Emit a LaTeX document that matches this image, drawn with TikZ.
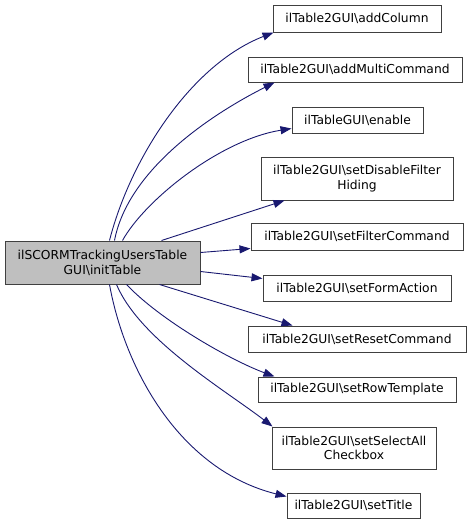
\documentclass[tikz,border=0pt]{standalone}
\usepackage{fontspec}
\setmainfont{DejaVu Sans}
\usetikzlibrary{arrows.meta,calc}
\definecolor{edgecol}{HTML}{191970}
\definecolor{mainfill}{HTML}{BFBFBF}
\begin{document}
\begin{tikzpicture}[x=1pt,y=-1pt,
  fnbox/.style={draw=black!75, line width=1pt, inner sep=0pt, fill=white,
    font=\fontsize{12.3}{14.8}\selectfont, align=center},
  callarrow/.style={draw=edgecol, line width=0.9pt, -{Triangle[length=11pt,width=8pt]}, fill=none}]
\useasboundingbox (0,0) rectangle (472,525);
\node[fnbox, fill=mainfill, minimum width=195pt, minimum height=43pt] (main) at (102.5,262.5) {ilSCORMTrackingUsersTable\\GUI\textbackslash initTable};
\node[fnbox, minimum width=168pt, minimum height=27pt] (t1) at (357,18.5) {ilTable2GUI\textbackslash addColumn};
\node[fnbox, minimum width=214pt, minimum height=25pt] (t2) at (355,69.5) {ilTable2GUI\textbackslash addMultiCommand};
\node[fnbox, minimum width=131pt, minimum height=26pt] (t3) at (357.5,120) {ilTableGUI\textbackslash enable};
\node[fnbox, minimum width=192pt, minimum height=43pt] (t4) at (357,178.5) {ilTable2GUI\textbackslash setDisableFilter\\Hiding};
\node[fnbox, minimum width=212pt, minimum height=27pt] (t5) at (357,236.5) {ilTable2GUI\textbackslash setFilterCommand};
\node[fnbox, minimum width=188pt, minimum height=26pt] (t6) at (357,288) {ilTable2GUI\textbackslash setFormAction};
\node[fnbox, minimum width=218pt, minimum height=26pt] (t7) at (357,339) {ilTable2GUI\textbackslash setResetCommand};
\node[fnbox, minimum width=198pt, minimum height=25pt] (t8) at (357,389.5) {ilTable2GUI\textbackslash setRowTemplate};
\node[fnbox, minimum width=164pt, minimum height=42pt] (t9) at (354,448) {ilTable2GUI\textbackslash setSelectAll\\Checkbox};
\node[fnbox, minimum width=133pt, minimum height=25pt] (t10) at (353.5,505.5) {ilTable2GUI\textbackslash setTitle};

\draw[callarrow] ($(main.north west)+(105,0)$) .. controls (130,160) and (190,65) .. ($(t1.south west)+(1,0)$);
\draw[callarrow] ($(main.north west)+(110,0)$) .. controls (128,170) and (210,115) .. ($(t2.south west)+(27,0)$);
\draw[callarrow] ($(main.north west)+(118,0)$) .. controls (145,200) and (220,140) .. ($(t3.south west)+(0,-5)$);
\draw[callarrow] ($(main.north west)+(157,0)$) -- ($(t4.south west)+(24,0)$);
\draw[callarrow] ($(main.north east)+(0,12)$) -- ($(t5.south west)+(0,-2)$);
\draw[callarrow] ($(main.north east)+(0,31)$) -- ($(t6.north west)+(0,4)$);
\draw[callarrow] ($(main.south west)+(155,0)$) -- ($(t7.north west)+(45,0)$);
\draw[callarrow] ($(main.south west)+(122,0)$) .. controls (160,320) and (230,360) .. ($(t8.north west)+(17,0)$);
\draw[callarrow] ($(main.south west)+(112,0)$) .. controls (140,340) and (225,390) .. ($(t9.north west)+(1,0)$);
\draw[callarrow] ($(main.south west)+(105,0)$) .. controls (125,370) and (180,470) .. ($(t10.north west)+(0,4)$);
\end{tikzpicture}
\end{document}
